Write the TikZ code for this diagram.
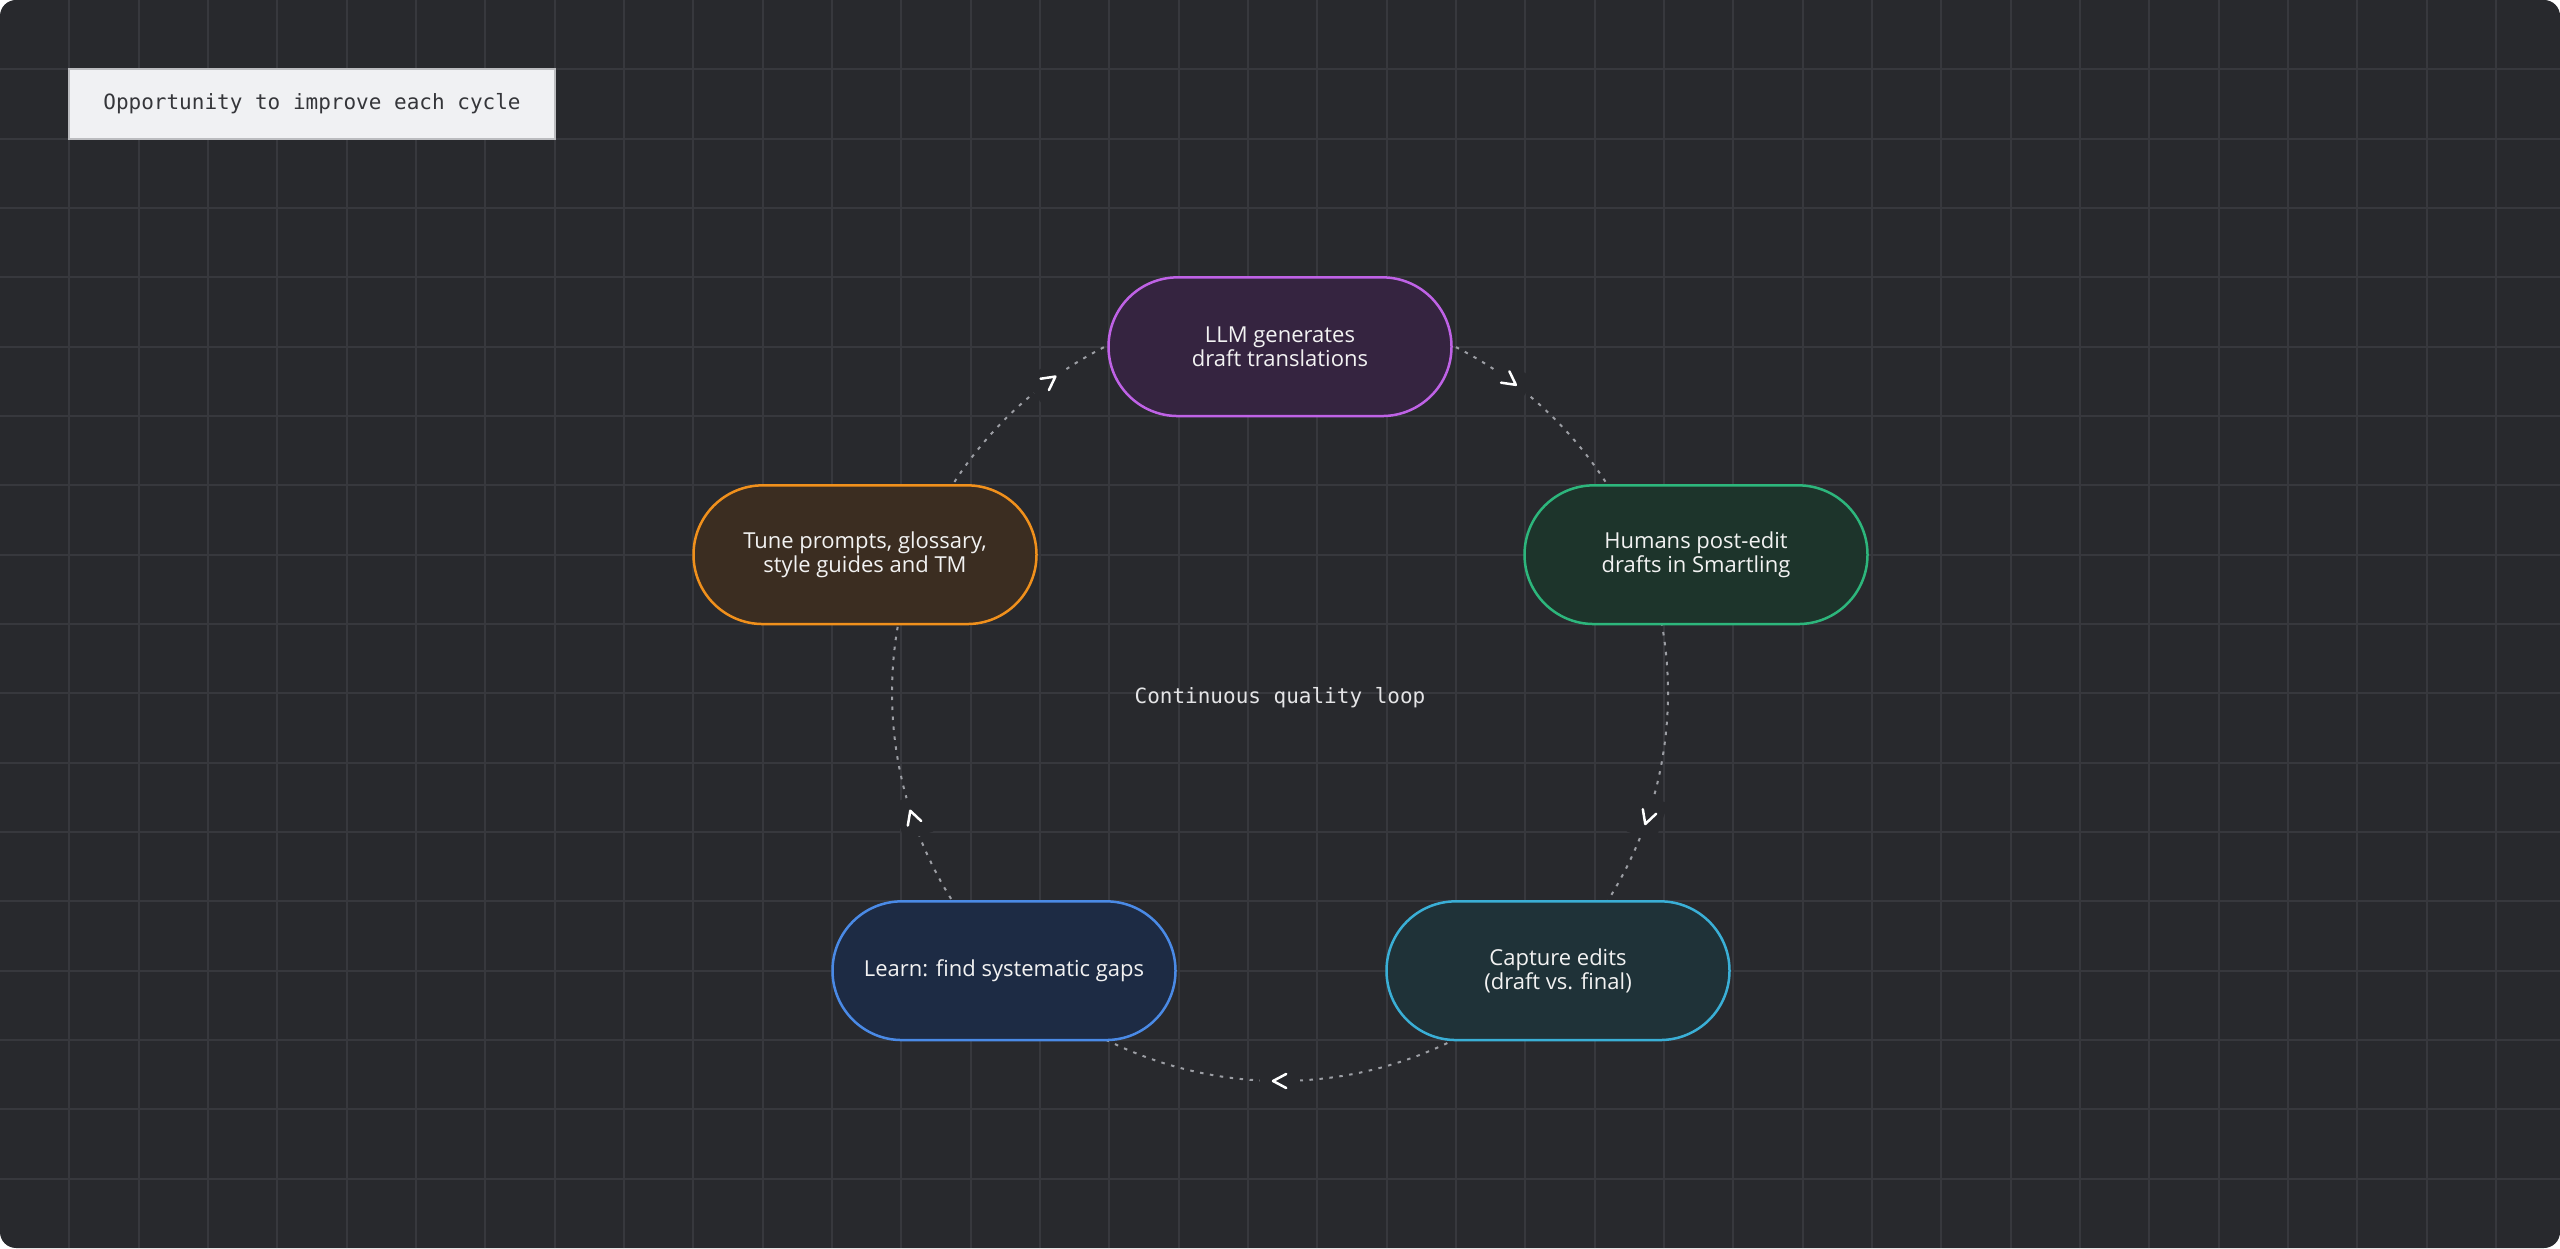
\documentclass[tikz,border=0pt]{standalone}
\usepackage{fontspec}
\setmainfont{Open Sans}
\newfontfamily\codefont{DejaVu Sans Mono}
\definecolor{bg}{HTML}{28292D}
\definecolor{gridc}{HTML}{37383D}
\definecolor{dotc}{HTML}{9C9EA4}
\definecolor{txt}{HTML}{F2F2F2}
\definecolor{llmfill}{HTML}{352440}
\definecolor{llmline}{HTML}{BF62E6}
\definecolor{humfill}{HTML}{1D342B}
\definecolor{humline}{HTML}{2DB67C}
\definecolor{capfill}{HTML}{1F3238}
\definecolor{capline}{HTML}{3AAFD6}
\definecolor{lrnfill}{HTML}{1D2B44}
\definecolor{lrnline}{HTML}{4A8AE6}
\definecolor{tunfill}{HTML}{3B2D21}
\definecolor{tunline}{HTML}{F0901C}
\definecolor{notefill}{HTML}{F0F1F3}
\definecolor{noteline}{HTML}{BBBCBF}
\definecolor{notetext}{HTML}{35363A}
\definecolor{looptext}{HTML}{E4E4E6}
\begin{document}
\begin{tikzpicture}[x=1pt,y=1pt,
  stage/.style={rectangle, rounded corners=69.3pt, minimum width=343pt, minimum height=138.7pt,
    line width=2.5pt, text=txt, align=center, font=\fontsize{22}{24.5}\selectfont, inner sep=0pt},
  gridline/.style={gridc, line width=2pt},
  loopline/.style={dotc, line width=2pt, dash pattern=on 3.5pt off 6.5pt},
  chevpatch/.style={fill=bg, minimum width=40pt, minimum height=30pt, inner sep=0pt},
  chevline/.style={white, line width=2.5pt, line cap=round, line join=round},
  codetext/.style={font=\codefont\fontsize{21}{25}\selectfont}
]
\fill[white] (0,0) rectangle (2560,1248);
\useasboundingbox (0,0) rectangle (2560,1248);
\fill[bg, rounded corners=16pt] (0,0) rectangle (2560,1248);
\begin{scope}
  \clip[rounded corners=16pt] (0,0) rectangle (2560,1248);
  \foreach \k in {1,...,36} \draw[gridline] ({\k*69.333},0) -- ({\k*69.333},1248);
  \foreach \k in {1,...,17} \draw[gridline] (0,{1248-\k*69.333}) -- (2560,{1248-\k*69.333});
\end{scope}

% loop centre
\coordinate (o) at (1280,555);

% dotted loop arcs (ends hidden under the stages)
\draw[loopline] ([shift={(66:388)}]o) arc[start angle=66, end angle=30, radius=388];
\draw[loopline] ([shift={(12:388)}]o) arc[start angle=12, end angle=-35, radius=388];
\draw[loopline] ([shift={(-61.5:388)}]o) arc[start angle=-61.5, end angle=-118.5, radius=388];
\draw[loopline] ([shift={(-145:388)}]o) arc[start angle=-145, end angle=-192, radius=388];
\draw[loopline] ([shift={(150:388)}]o) arc[start angle=150, end angle=114, radius=388];

% chevron arrowheads
\foreach \a/\n in {53.6/a1, -18.7/a2, -90/a3, -161.3/a4, 126.4/a5} {
  \node[chevpatch, rotate=\a-90] (\n) at ([shift={(\a:388)}]o) {};
  \coordinate (\n tip) at ([shift={(\a-90:7)}]\n.center);
  \draw[chevline] ([shift={(\a+118:15)}]\n tip) -- (\n tip) -- ([shift={(\a+62:15)}]\n tip);
}

% stages
\node[stage, fill=llmfill, draw=llmline] (llm) at (1280,901.3) {LLM generates\\draft translations};
\node[stage, fill=humfill, draw=humline] (humans) at (1696,693.3) {Humans post-edit\\drafts in Smartling};
\node[stage, fill=capfill, draw=capline] (capture) at (1558,277.3) {Capture edits\\(draft vs. final)};
\node[stage, fill=lrnfill, draw=lrnline] (learn) at (1004,277.3) {Learn: find systematic gaps};
\node[stage, fill=tunfill, draw=tunline] (tune) at (865,693.3) {Tune prompts, glossary,\\style guides and TM};

% texts
\node[codetext, fill=notefill, draw=noteline, line width=2pt, minimum width=485.3pt,
  minimum height=69.3pt, text=notetext, inner sep=0pt] (note) at (312,1144) {Opportunity to improve each cycle};
\node[codetext, text=looptext, anchor=base] (looplabel) at (1280,544) {Continuous quality loop};
\end{tikzpicture}
\end{document}
